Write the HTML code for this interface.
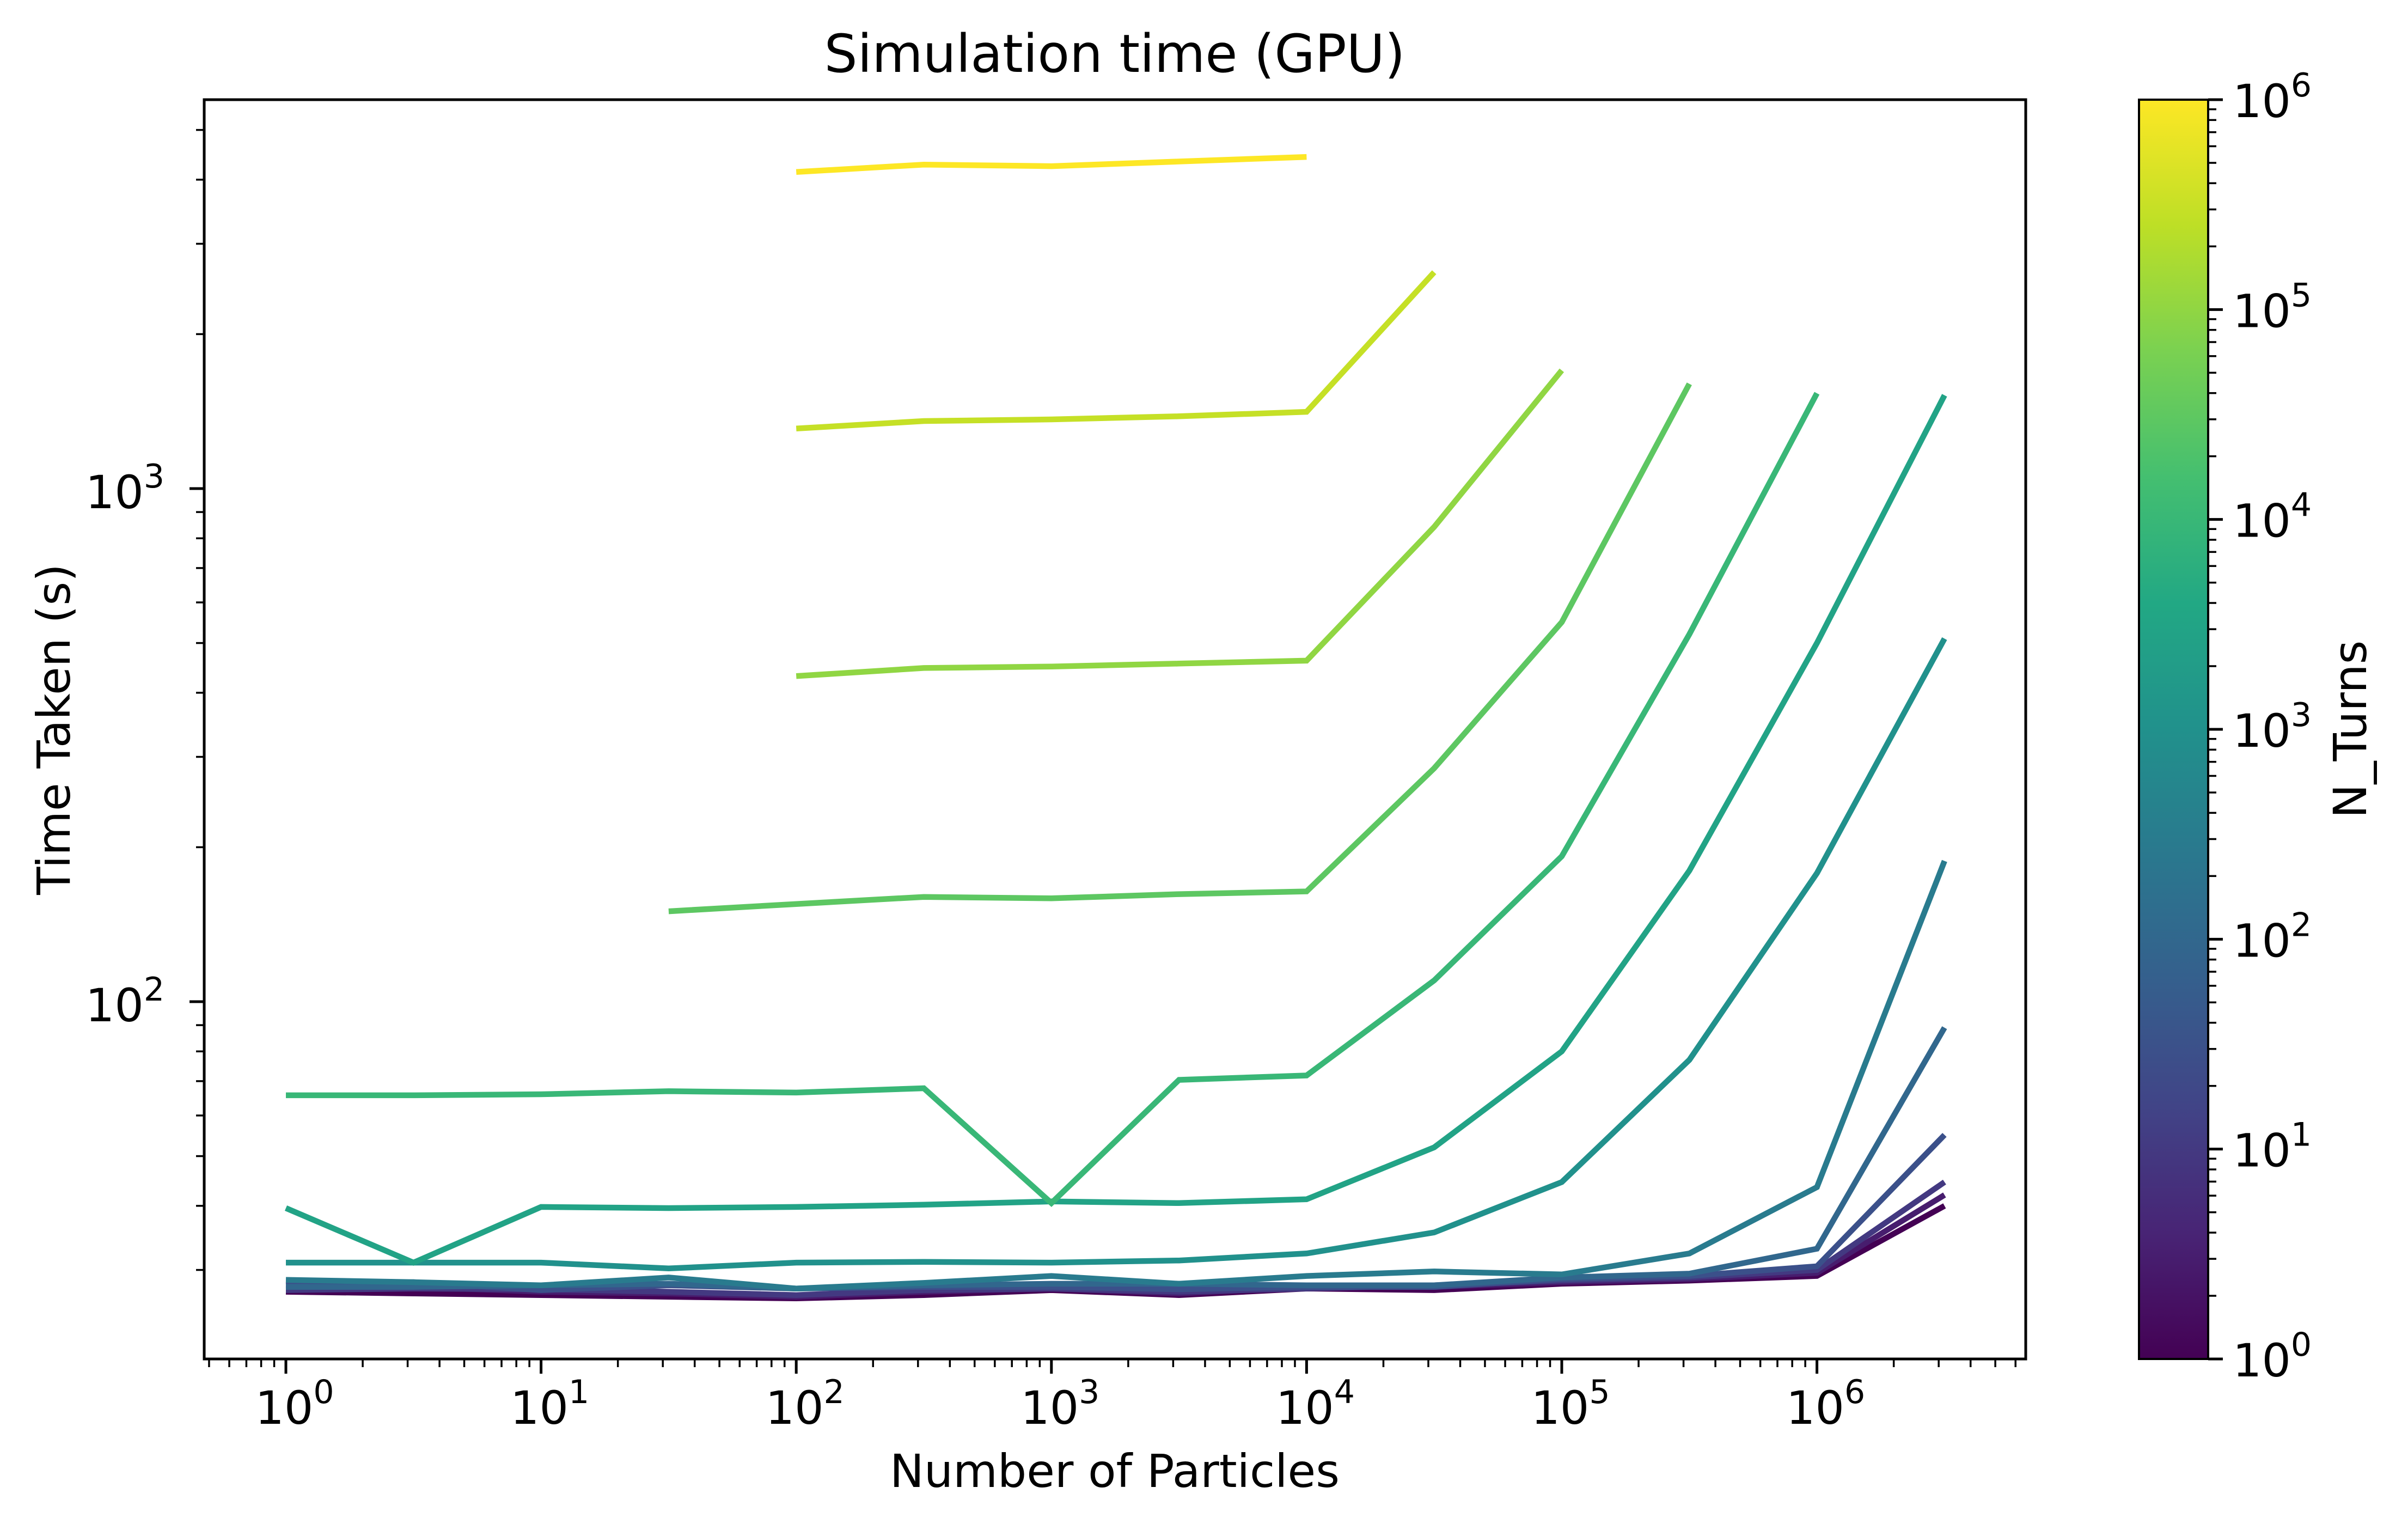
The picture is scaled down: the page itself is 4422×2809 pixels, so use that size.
<!DOCTYPE html>
<html><head><meta charset="utf-8"><style>
html,body{margin:0;padding:0;background:#fff;}
svg{display:block;font-family:"DejaVu Sans","Liberation Sans",sans-serif;}
</style></head><body>
<svg id="chart" xmlns="http://www.w3.org/2000/svg" width="4422" height="2809" viewBox="0 0 4422 2809">
<defs>
<linearGradient id="viridis" x1="0" y1="1" x2="0" y2="0">
<stop offset="0" stop-color="#440154"/><stop offset="0.1" stop-color="#482475"/><stop offset="0.2" stop-color="#414487"/><stop offset="0.3" stop-color="#355f8d"/><stop offset="0.4" stop-color="#2a788e"/><stop offset="0.5" stop-color="#21918c"/><stop offset="0.6" stop-color="#22a884"/><stop offset="0.7" stop-color="#44bf70"/><stop offset="0.8" stop-color="#7ad151"/><stop offset="0.9" stop-color="#bddf26"/><stop offset="1" stop-color="#fde725"/>
</linearGradient>
<clipPath id="plotclip"><rect x="375" y="183" width="3345" height="2312"/></clipPath>
</defs>
<rect x="0" y="0" width="4422" height="2809" fill="#fff"/>
<text x="2047" y="132" font-size="96" text-anchor="middle">Simulation time (GPU)</text>
<text x="2047" y="2730" font-size="84" text-anchor="middle">Number of Particles</text>
<text transform="translate(128,1339) rotate(-90)" font-size="84" text-anchor="middle">Time Taken (s)</text>
<g id="lines" clip-path="url(#plotclip)"></g>
<g id="axes"></g>
<rect x="3928" y="183" width="127" height="2312" fill="url(#viridis)"/>
<rect x="3928" y="183" width="127" height="2312" fill="none" stroke="#000" stroke-width="4"/>
<g id="cbar"></g>
<text transform="translate(4345,1339) rotate(-90)" font-size="84" text-anchor="middle">N_Turns</text>
</svg>
<script>
const nTurns = [1,3,10,30,100,300,1000,3000,10000,30000,100000,300000,1000000];
const startIdx = [0,0,0,0,0,0,0,0,0,3,4,4,4];
const s1 = [27.2,27.0,26.8,26.6,26.4,26.8,27.4,26.8,27.6,27.4,28.2,28.6,29.2,40];
const s3 = [27.6,27.8,27.2,27.0,26.6,27.2,27.6,27.0,27.8,27.8,28.4,28.8,29.6,42];
const s10 = [27.4,27.6,27.5,27.2,26.8,27.4,27.6,27.2,27.6,28.0,28.6,29.0,30.0,44.5];
const s30 = [28.0,28.4,27.4,28.0,27.6,27.8,27.8,27.5,27.8,27.8,28.8,29.2,30.5,55];
const s100 = [27.8,27.8,28.0,28.2,27.6,28.0,28.2,28.2,28.0,28.0,29.0,29.5,33.0,89];
const s300 = [28.7,28.4,28.0,29.0,27.6,28.3,29.2,28.2,29.2,29.8,29.4,32.3,43.5,188];
const s1e3 = [31,31,31,30.2,31,31.1,31,31.3,32.3,35.5,44.5,77,178,510];
const s3e3 = [39.6,31.0,39.8,39.6,39.8,40.2,40.8,40.5,41.2,52,80,180,500,1520];
const s1e4 = [65.7,65.7,66.0,66.9,66.5,67.8,40.5,70.4,71.8,110,192,520,1534];
const s3e4 = [150,155,160,159,162,164,285,549,1600];
const s1e5 = [431,447,450,456,462,842,1700];
const s3e5 = [1309,1354,1364,1383,1411,2640];
const s1e6 = [4140,4280,4250,4340,4430];
const series = [s1,s3,s10,s30,s100,s300,s1e3,s3e3,s1e4,s3e4,s1e5,s3e5,s1e6];
const xTickLabels = ["0","1","2","3","4","5","6"];
const yTickLabels = ["2","3"];
const cbarTickLabels = ["0","1","2","3","4","5","6"];

const NS = "http://www.w3.org/2000/svg";
const X0=375,X1=3720,Y0=183,Y1=2495;
function xs(v){return 525+Math.log10(v)*468.6;}
function ys(v){return 1839-(Math.log10(v)-2)*942;}
const vir=["#440154","#482475","#414487","#355f8d","#2a788e","#21918c","#22a884","#44bf70","#7ad151","#bddf26","#fde725"];
function hex(h){return [1,3,5].map(i=>parseInt(h.substr(i,2),16));}
function viridis(t){t=Math.max(0,Math.min(1,t));const f=t*10,i=Math.min(9,Math.floor(f)),r=f-i;const a=hex(vir[i]),b=hex(vir[i+1]);return "rgb("+a.map((c,k)=>Math.round(c+(b[k]-c)*r)).join(",")+")";}
function mk(tag,attrs,parent){const e=document.createElementNS(NS,tag);for(const k in attrs)e.setAttribute(k,attrs[k]);parent.appendChild(e);return e;}

const lines=document.getElementById("lines");
series.forEach((vals,si)=>{
  const pts=vals.map((v,j)=>{const p=Math.pow(10,(startIdx[si]+j)/2);return xs(p).toFixed(1)+","+ys(v).toFixed(1);}).join(" ");
  const pl=mk("polyline",{points:pts,fill:"none",stroke:viridis(Math.log10(nTurns[si])/6),"stroke-width":"10.5","stroke-linejoin":"miter","stroke-linecap":"butt"},lines);
  
  
});

const ax=document.getElementById("axes");
const fr=mk("rect",{x:X0,y:Y0,width:X1-X0,height:Y1-Y0,fill:"none",stroke:"#000","stroke-width":"5"},ax);


for(let d=-1;d<=7;d++){for(let m=1;m<10;m++){const v=m*Math.pow(10,d);const x=xs(v);if(x<X0||x>X1)continue;
  const len=m===1?27:15,w=m===1?5:3.5;
  const t=mk("line",{x1:x,y1:Y1,x2:x,y2:Y1+len,stroke:"#000","stroke-width":w},ax);
  
  
  if(m===1&&d>=0&&d<xTickLabels.length){
    const tx=mk("text",{x:x+16,y:2614,"font-size":"84","text-anchor":"middle"},ax);
    
    
    tx.textContent="10";
    const sp=mk("tspan",{dy:"-38","font-size":"60"},tx);sp.textContent=xTickLabels[d];
  }}}
for(let d=1;d<=4;d++){for(let m=1;m<10;m++){const v=m*Math.pow(10,d);const y=ys(v);if(y<Y0||y>Y1)continue;
  const len=m===1?27:15,w=m===1?5:3.5;
  const t=mk("line",{x1:X0,y1:y,x2:X0-len,y2:y,stroke:"#000","stroke-width":w},ax);
  
  
  if(m===1&&yTickLabels.indexOf(String(d))>=0){
    const tx=mk("text",{x:302,y:y+36,"font-size":"84","text-anchor":"end"},ax);
    
    
    tx.textContent="10";
    const sp=mk("tspan",{dy:"-38","font-size":"60"},tx);sp.textContent=String(d);
  }}}
const cb=document.getElementById("cbar");
function cy(v){return Y1-Math.log10(v)/6*(Y1-Y0);}
for(let d=0;d<=6;d++){for(let m=1;m<10;m++){const v=m*Math.pow(10,d);if(v>1e6)continue;const y=cy(v);
  const len=m===1?27:15,w=m===1?5:3.5;
  const t=mk("line",{x1:4055,y1:y,x2:4055+len,y2:y,stroke:"#000","stroke-width":w},cb);
  
  
  if(m===1){
    const tx=mk("text",{x:4100,y:y+32,"font-size":"84"},cb);
    
    
    tx.textContent="10";
    const sp=mk("tspan",{dy:"-38","font-size":"60"},tx);sp.textContent=cbarTickLabels[d];
  }}}
</script>
</body></html>
